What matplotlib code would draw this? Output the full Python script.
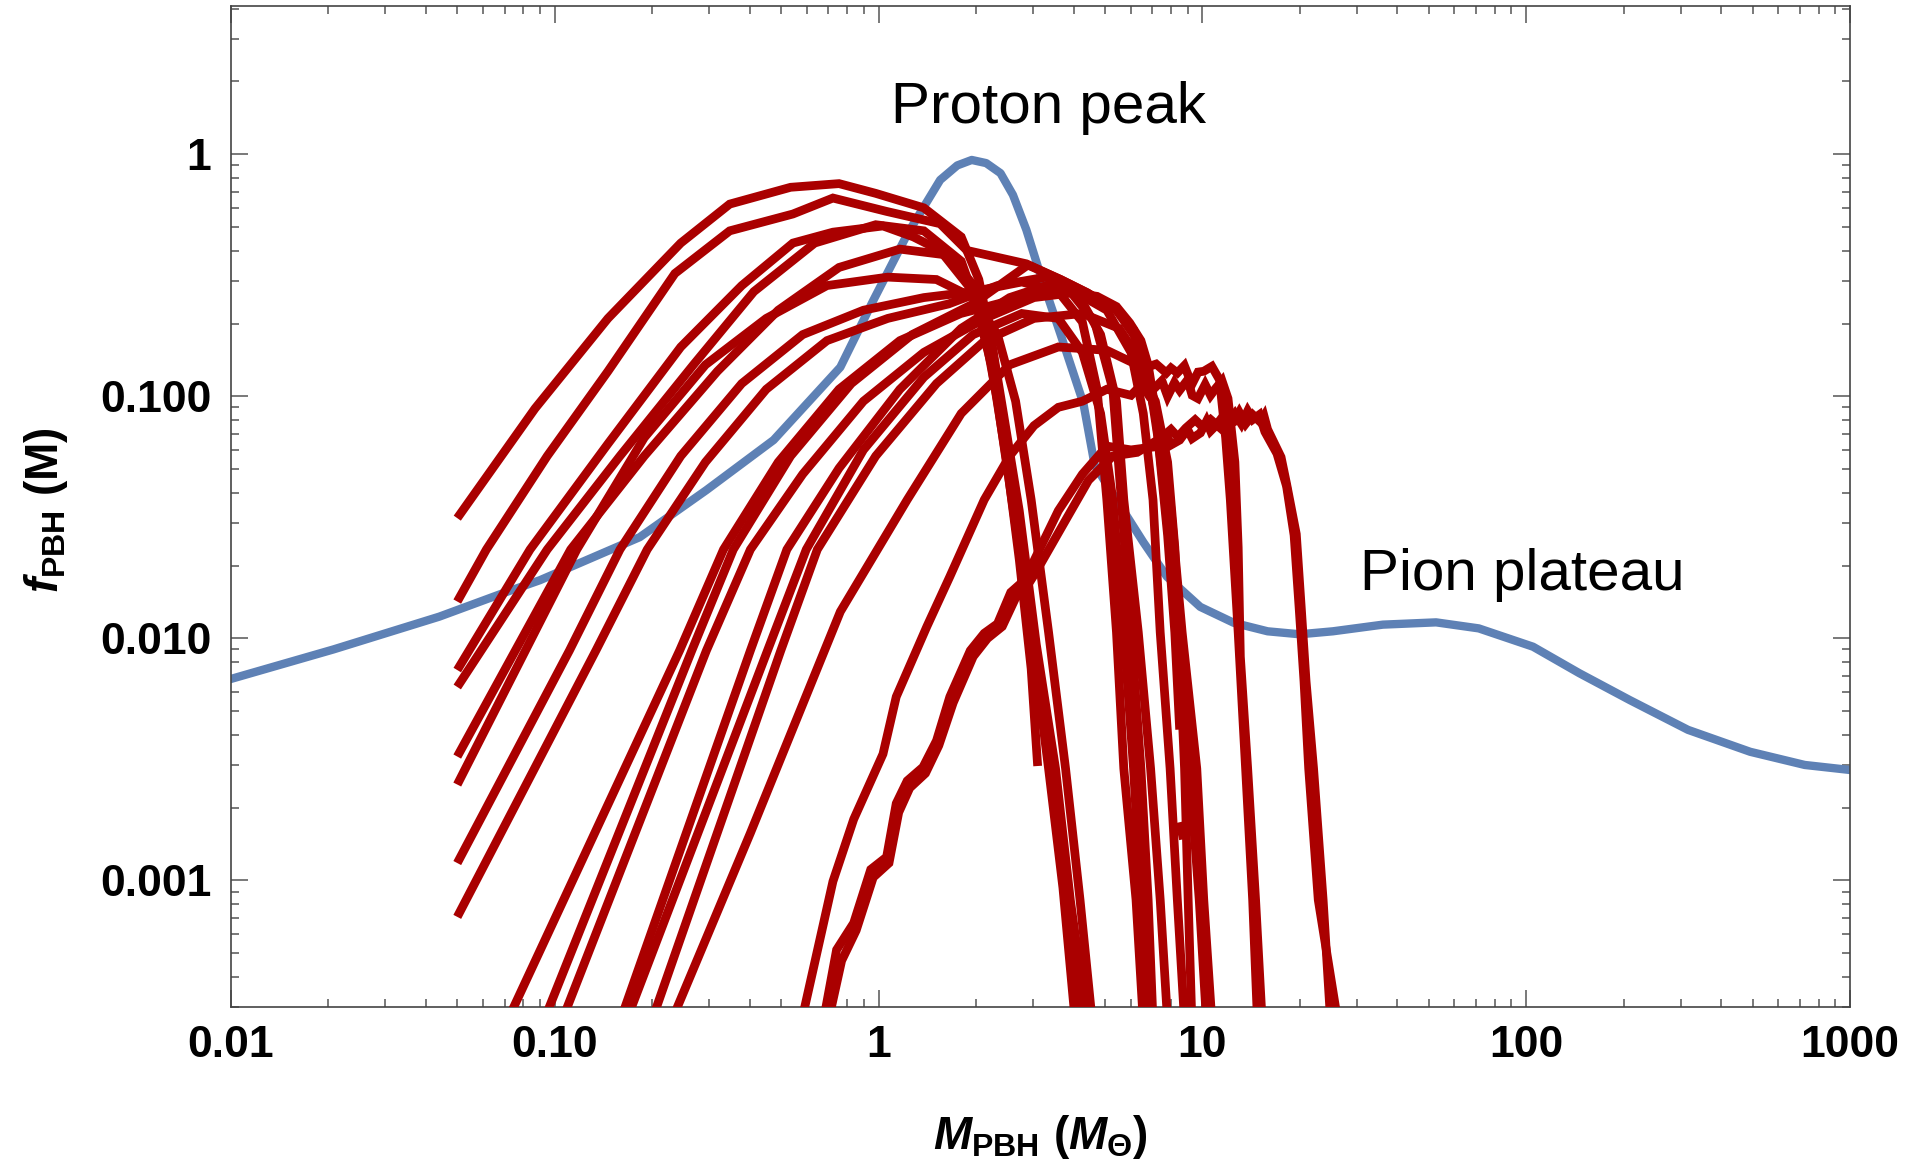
import numpy as np
import matplotlib
matplotlib.use("Agg")
import matplotlib.pyplot as plt

plt.rcParams['font.family'] = ['Liberation Sans', 'DejaVu Sans']
plt.rcParams['mathtext.fontset'] = 'custom'
plt.rcParams['mathtext.rm'] = 'Liberation Sans:bold'
plt.rcParams['mathtext.bf'] = 'Liberation Sans:bold'
plt.rcParams['mathtext.it'] = 'Liberation Sans:italic:bold'

# thermal-history mass function (blue)
thermal_mass = [0.01, 0.0207, 0.044, 0.0676, 0.090, 0.183, 0.294, 0.474, 0.762, 0.963,
                1.23, 1.55, 1.75, 1.94, 2.15, 2.38, 2.6, 2.86, 3.15, 3.64,
                4.29, 4.65, 5.43, 6.57, 7.77, 9.85, 12.5, 15.9, 20.0, 25.3,
                36.1, 52.7, 71.4, 105, 146, 209, 316, 492, 725, 1000]
thermal_f = [0.0068, 0.0090, 0.0123, 0.0152, 0.0174, 0.0262, 0.041, 0.066, 0.132, 0.249,
             0.471, 0.784, 0.90, 0.948, 0.92, 0.836, 0.68, 0.488, 0.323, 0.182,
             0.0937, 0.052, 0.0374, 0.025, 0.018, 0.0135, 0.0116, 0.0107, 0.0104, 0.0107,
             0.0114, 0.01165, 0.0110, 0.00924, 0.00718, 0.00556, 0.00419, 0.0034, 0.0030, 0.00286]

nan = np.nan
# simulated mass functions (red), one list per run
run_masses = [
    [0.05, 0.0869, 0.146, 0.245, 0.347, 0.535, 0.755, 0.98, 1.38, 1.80, 2.04, 2.23, 2.43, 2.63, 2.96, 3.35, 3.71, 4.05],
    [0.05, 0.0615, 0.0948, 0.146, 0.235, 0.347, 0.544, 0.723, 1.059, 1.549, 1.874, 2.86, 3.65, 4.41, 5.43, 6.13, 6.74,
     7.2, 7.74, 8.0, 8.37, 8.8, 9.28, 9.7, 10.1, 10.7, 11.3, 11.8, 12.2, 12.9, 13.6, 14.3, 14.8],
    [0.05, 0.0839, 0.146, 0.245, 0.378, 0.544, 0.723, 1.032, 1.281, 1.549, 1.957, 2.23, 2.49, 2.72, 2.96, 3.10],
    [0.05, 0.0948, 0.159, 0.268, 0.412, 0.635, 0.98, 1.38, 1.80, 2.10, 2.33, 2.58, 2.96, 3.40, 3.84, 4.26],
    [0.05, 0.112, 0.189, 0.318, 0.490, 0.755, 1.164, 1.646, 2.04, 2.23, 2.43, 2.72, 3.07, 3.52, 3.91, 4.41],
    [0.05, 0.117, 0.189, 0.292, 0.450, 0.693, 1.068, 1.509, 1.957, 2.33, 2.65, 2.96, 3.35, 3.78, 4.19, 4.57],
    [0.05, 0.111, 0.159, 0.245, 0.378, 0.583, 0.898, 1.38, 1.96, 2.77, 3.59, 4.26, 4.73, 5.07, 5.43, 5.72, 6.24, 6.57],
    [0.05, 0.134, 0.193, 0.292, 0.450, 0.693, 1.068, 1.646, 2.33, 3.29, 4.08, 4.85, 5.43, 5.72, 6.34, 6.92, 7.41, 7.81],
    [0.0712, 0.243, 0.332, 0.490, 0.755, 1.164, 1.795, 2.77, 3.91, 5.07, 6.02, 6.57, 7.04, 7.41, 7.95, 8.37, 8.81],
    [0.0923, 0.265, 0.356, 0.535, 0.824, 1.27, 1.96, 2.89, 3.65, 4.41, 5.43, 6.13, 6.74, 7.29, 7.81, 8.22, 8.51,
     nan, 8.51, 8.74],
    [0.105, 0.294, 0.402, 0.583, 0.898, 1.38, 2.13, 3.02, 3.98, 4.73, 5.43, 5.97, 6.46, 6.80, 7.29, 7.95, 8.66, 9.61,
     10.1, 10.7],
    [0.159, 0.402, 0.521, 0.755, 1.164, 1.80, 2.54, 3.29, 3.91, 4.65, 5.29, 5.62, 6.02, 6.46, 6.80, 7.04],
    [0.166, 0.454, 0.598, 0.898, 1.38, 1.96, 2.77, 3.59, 4.26, 4.85, 5.29, 5.72, 6.13, 6.46, 6.68],
    [0.199, 0.499, 0.647, 0.98, 1.51, 2.13, 3.02, 4.26, 5.53, 6.57, 7.16, 7.67, 8.37, 9.12, 9.78, 10.3],
    [0.229, 0.402, 0.762, 1.226, 1.80, 2.54, 3.59, 5.07, 6.29, 7.16, 7.81, 8.22, 8.51, 8.81, 9.04, 9.28],
    [0.578, 0.723, 0.838, 1.032, 1.134, 1.41, 1.66, 2.12, 2.54, 3.02, 3.59, 4.26, 5.07, 6.02, 6.5, 6.8, 7.16, 7.5,
     7.81, 8.2, 8.51, 9.0, 9.3, 9.69, 10.2, 10.6, 11.0, 11.5, 12.0, 12.6, 12.9, 13.1, 13.8, 14.6, 15.3],
    [0.675, 0.742, 0.838, 0.946, 1.059, 1.134, 1.226, 1.372, 1.51, 1.66, 1.92, 2.12, 2.33, 2.56, 2.74, 2.96, 3.59,
     4.26, 5.07, 6.02, 7.41, 7.8, 8.0, 8.51, 9.0, 9.3, 9.86, 10.3, 10.6, 11.0, 11.6, 12.0, 12.5, 13.0, 13.6, 14.3,
     15.1, 15.5, 15.9, 17.5, 18.2, 19.5, 20.2, 20.9, 22.05, 23.6, 24.9],
    [0.699, 0.769, 0.853, 0.963, 1.077, 1.154, 1.248, 1.396, 1.535, 1.70, 1.96, 2.17, 2.41, 2.65, 2.84, 3.07, 3.74,
     4.45, 5.29, 6.29, 7.48, 8.0, 8.4, 8.89, 9.5, 10.0, 10.6, 11.5, 12.6, 13.2, 13.8, 14.3, 15.0, 15.6, 17.0, 18.2,
     19.2, 19.9, 20.6, 21.3, 22.8, 26.2],
]
run_fractions = [
    [0.0314, 0.0891, 0.210, 0.430, 0.623, 0.731, 0.757, 0.690, 0.601, 0.456, 0.304, 0.170, 0.0757, 0.0337, 0.0106,
     0.00290, 0.000933, 0.000261],
    [0.0142, 0.0233, 0.0567, 0.127, 0.322, 0.483, 0.567, 0.660, 0.581, 0.517, 0.401, 0.353, 0.304, 0.268, 0.227,
     0.189, 0.132, 0.136, 0.125, 0.131, 0.125, 0.134, 0.112, 0.126, 0.127, 0.133, 0.117, 0.0675, 0.0374, 0.0106,
     0.00290, 0.000831, 0.000261],
    [0.00740, 0.0233, 0.0637, 0.160, 0.287, 0.430, 0.477, 0.506, 0.456, 0.401, 0.271, 0.135, 0.0535, 0.0212,
     0.00749, 0.00297],
    [0.00630, 0.0233, 0.0567, 0.135, 0.271, 0.430, 0.512, 0.483, 0.362, 0.203, 0.0955, 0.0374, 0.0106, 0.00290,
     0.000831, 0.000261],
    [0.00325, 0.0233, 0.0567, 0.127, 0.227, 0.341, 0.406, 0.383, 0.271, 0.170, 0.0850, 0.0337, 0.00944, 0.00290,
     0.000831, 0.000261],
    [0.00249, 0.0233, 0.0675, 0.135, 0.210, 0.287, 0.311, 0.304, 0.256, 0.180, 0.0955, 0.0374, 0.0106, 0.00290,
     0.000831, 0.000261],
    [0.00118, 0.00891, 0.0233, 0.0567, 0.113, 0.180, 0.227, 0.256, 0.271, 0.297, 0.271, 0.203, 0.107, 0.0374,
     0.0106, 0.00290, 0.000831, 0.000261],
    [0.000707, 0.00891, 0.0233, 0.0535, 0.107, 0.170, 0.210, 0.241, 0.287, 0.311, 0.271, 0.180, 0.0955, 0.0374,
     0.0106, 0.00290, 0.000831, 0.000261],
    [0.000261, 0.00891, 0.0233, 0.0535, 0.107, 0.170, 0.220, 0.256, 0.277, 0.227, 0.152, 0.0850, 0.0374, 0.0106,
     0.00290, 0.000831, 0.000261],
    [0.000261, 0.00891, 0.0233, 0.0567, 0.113, 0.180, 0.241, 0.349, 0.304, 0.268, 0.227, 0.180, 0.135, 0.0675,
     0.0267, 0.0106, 0.00420, nan, 0.00174, 0.00148],
    [0.000261, 0.00891, 0.0233, 0.0477, 0.0955, 0.152, 0.210, 0.256, 0.268, 0.259, 0.235, 0.201, 0.170, 0.135,
     0.0757, 0.0374, 0.0106, 0.00290, 0.000831, 0.000261],
    [0.000261, 0.00891, 0.0233, 0.0505, 0.107, 0.191, 0.256, 0.287, 0.271, 0.203, 0.107, 0.0374, 0.0106, 0.00290,
     0.000831, 0.000261],
    [0.000261, 0.00891, 0.0233, 0.0601, 0.120, 0.180, 0.220, 0.210, 0.152, 0.0850, 0.0374, 0.0106, 0.00290,
     0.000831, 0.000261],
    [0.000261, 0.00891, 0.0233, 0.0567, 0.113, 0.170, 0.210, 0.220, 0.191, 0.135, 0.0850, 0.0374, 0.0106, 0.00290,
     0.000831, 0.000261],
    [0.000261, 0.00157, 0.0129, 0.0374, 0.0850, 0.135, 0.160, 0.155, 0.135, 0.0955, 0.0535, 0.0238, 0.00841,
     0.00290, 0.000831, 0.000261],
    [0.000261, 0.000991, 0.00179, 0.00333, 0.00574, 0.0112, 0.0180, 0.0374, 0.0567, 0.0757, 0.0901, 0.0955, 0.107,
     0.101, 0.112, 0.102, 0.109, 0.116, 0.100, 0.114, 0.106, 0.117, 0.101, 0.098, 0.112, 0.101, 0.108, 0.116,
     0.098, 0.0535, 0.0238, 0.00841, 0.00290, 0.000831, 0.000261],
    [0.000261, 0.000517, 0.000667, 0.00111, 0.00125, 0.00208, 0.00258, 0.00294, 0.00378, 0.00574, 0.00891, 0.0105,
     0.0115, 0.0155, 0.0168, 0.0198, 0.0337, 0.0477, 0.0623, 0.0601, 0.0623, 0.068, 0.063, 0.0660, 0.073,
     0.067, 0.0706, 0.079, 0.072, 0.0757, 0.083, 0.076, 0.0784, 0.086, 0.077, 0.084, 0.0784, 0.083,
     0.0731, 0.0561, 0.0435, 0.0270, 0.0134, 0.00667, 0.00290, 0.000831, 0.000261],
    [0.000261, 0.000466, 0.000622, 0.00103, 0.00118, 0.00191, 0.00241, 0.00277, 0.00361, 0.00542, 0.00841, 0.0100,
     0.0112, 0.0147, 0.0160, 0.0189, 0.0300, 0.0450, 0.0567, 0.0587, 0.0675, 0.073, 0.068, 0.0740, 0.080,
     0.075, 0.0802, 0.073, 0.0850, 0.077, 0.087, 0.0802, 0.084, 0.0714, 0.0580, 0.0425, 0.0267, 0.0134,
     0.00667, 0.00290, 0.000831, 0.000261],
]

x_ticks = [0.01, 0.1, 1, 10, 100, 1000]
x_tick_labels = ['0.01', '0.10', '1', '10', '100', '1000']
y_ticks = [0.001, 0.01, 0.1, 1]
y_tick_labels = ['0.001', '0.010', '0.100', '1']

fig = plt.figure(figsize=(19.07, 11.62), dpi=100)
ax = fig.add_axes([0.1211, 0.1334, 0.8490, 0.8614])

ax.plot(thermal_mass, thermal_f, color='#5E81B5', lw=6.0, zorder=2)
for m, f in zip(run_masses, run_fractions):
    ax.plot(m, f, color='#AA0000', lw=6.3, solid_joinstyle='miter',
            solid_capstyle='butt', zorder=3)

ax.set_xscale('log')
ax.set_yscale('log')
ax.set_xlim(0.01, 1000)
ax.set_ylim(3.0e-4, 4.1)

ax.set_xticks(x_ticks, labels=x_tick_labels)
ax.set_yticks(y_ticks, labels=y_tick_labels)
ax.xaxis.set_minor_locator(matplotlib.ticker.LogLocator(base=10, subs=np.arange(2, 10)))
ax.yaxis.set_minor_locator(matplotlib.ticker.LogLocator(base=10, subs=np.arange(2, 10)))
ax.xaxis.set_minor_formatter(matplotlib.ticker.NullFormatter())
ax.yaxis.set_minor_formatter(matplotlib.ticker.NullFormatter())

ax.tick_params(which='both', direction='in', top=True, right=True,
               color='#555555', width=1.1)
ax.tick_params(which='major', length=12)
ax.tick_params(which='minor', length=6)
ax.tick_params(axis='x', which='major', pad=13)
ax.tick_params(axis='y', which='major', pad=14)
for lbl in ax.get_xticklabels() + ax.get_yticklabels():
    lbl.set_fontsize(32)
    lbl.set_fontweight('bold')
for sp in ax.spines.values():
    sp.set_color('#444444')
    sp.set_linewidth(1.2)

ax.text(3.35, 1.55, 'Proton peak', fontsize=42, ha='center', va='center')
ax.text(97.2, 0.01825, 'Pion plateau', fontsize=42, ha='center', va='center')

fig.text(46 / 1907, 1 - 510 / 1162, r'$f_{\mathrm{PBH}}$ (M)', rotation=90,
         ha='center', va='center', fontsize=33, fontweight='bold')
fig.text(1040 / 1907, 1 - 1137 / 1162, r'$M_{\mathrm{PBH}}$ ($M_{\Theta}$)',
         ha='center', va='center', fontsize=33, fontweight='bold')

fig.savefig('out.png', dpi=100)
